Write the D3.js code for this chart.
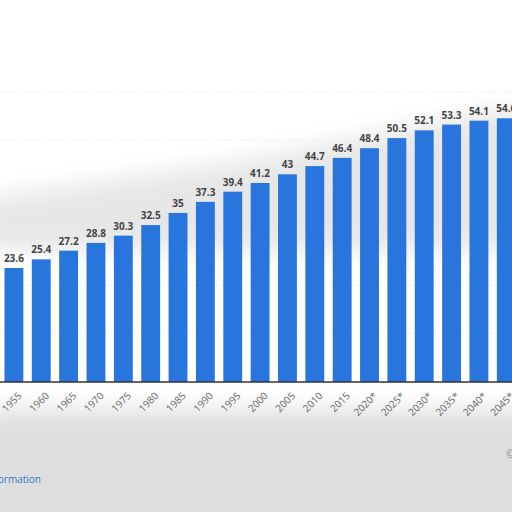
<!DOCTYPE html>
<html>
<head>
<meta charset="utf-8">
<script src="https://cdn.jsdelivr.net/npm/d3@7"></script>
<style>
  body { margin: 0; background: #fff; }
  svg { display: block; font-family: "Open Sans", "DejaVu Sans", sans-serif; }
</style>
</head>
<body>
<div id="vis"></div>
<script>
// Data
const YEARS = ["1955", "1960", "1965", "1970", "1975", "1980", "1985", "1990", "1995", "2000",
               "2005", "2010", "2015", "2020*", "2025*", "2030*", "2035*", "2040*", "2045*"];
const VALUES = [23.6, 25.4, 27.2, 28.8, 30.3, 32.5, 35, 37.3, 39.4, 41.2,
                43, 44.7, 46.4, 48.4, 50.5, 52.1, 53.3, 54.1, 54.6];
const GRID_TICKS = [10, 20, 30, 40, 50, 60];

const WIDTH = 512, HEIGHT = 512;
const BASE_Y = 382;

const svg = d3.select("#vis").append("svg")
    .attr("width", WIDTH)
    .attr("height", HEIGHT);

// soft grey smudges like the reference background
const defs = svg.append("defs");
defs.append("filter").attr("id", "blur")
    .attr("x", "-20%").attr("y", "-50%").attr("width", "140%").attr("height", "200%")
    .append("feGaussianBlur").attr("stdDeviation", 12);

svg.append("rect")
    .attr("x", -20).attr("y", 410).attr("width", 560).attr("height", 120)
    .attr("fill", "#dedede").attr("filter", "url(#blur)");
svg.append("path")
    .attr("d", "M-20,200 L250,160 L500,110 L540,110 L540,250 L-20,250 Z")
    .attr("fill", "#e6e6e6").attr("filter", "url(#blur)");

// scales
const X_SCALE = d3.scaleBand()
    .domain(YEARS)
    .range([-4, -4 + YEARS.length * 27.8])
    .padding(0.31);

const Y_SCALE = d3.scaleLinear()
    .domain([0, 60])
    .range([BASE_Y, BASE_Y - 60 * 4.83]);

// gridlines
svg.append("g").selectAll("line")
    .data(GRID_TICKS)
    .enter().append("line")
    .attr("x1", 0).attr("x2", WIDTH)
    .attr("y1", d => Y_SCALE(d)).attr("y2", d => Y_SCALE(d))
    .attr("stroke", "#e4e4e4")
    .attr("stroke-dasharray", "1,2");

// bars
svg.append("g").selectAll("rect")
    .data(VALUES)
    .enter().append("rect")
    .attr("x", (d, i) => X_SCALE(YEARS[i]))
    .attr("y", d => Y_SCALE(d))
    .attr("width", X_SCALE.bandwidth())
    .attr("height", d => BASE_Y - Y_SCALE(d))
    .attr("fill", "#2876dd");

// value labels
svg.append("g").selectAll("text")
    .data(VALUES)
    .enter().append("text")
    .attr("x", (d, i) => X_SCALE(YEARS[i]) + X_SCALE.bandwidth() / 2)
    .attr("y", d => Y_SCALE(d) - 6)
    .attr("text-anchor", "middle")
    .attr("font-size", 10)
    .attr("font-weight", "bold")
    .attr("fill", "#444")
    .text(d => d);

// x axis line
svg.append("line")
    .attr("x1", 0).attr("x2", WIDTH)
    .attr("y1", BASE_Y).attr("y2", BASE_Y)
    .attr("stroke", "#333").attr("stroke-width", 1.5);

// rotated year labels
svg.append("g").selectAll("text")
    .data(YEARS)
    .enter().append("text")
    .attr("transform", d => "translate(" + (X_SCALE(d) + X_SCALE.bandwidth() / 2 + 6) + "," + (BASE_Y + 12) + ") rotate(-45)")
    .attr("text-anchor", "end")
    .attr("dy", "0.35em")
    .attr("font-size", 10)
    .attr("fill", "#666")
    .text(d => d);

// footer bits
svg.append("text")
    .attr("x", 41).attr("y", 483)
    .attr("text-anchor", "end")
    .attr("font-size", 10)
    .attr("fill", "#2f7bc0")
    .text("Additional Information");

svg.append("text")
    .attr("x", 506).attr("y", 458)
    .attr("font-size", 10)
    .attr("fill", "#888")
    .text("©");
</script>
</body>
</html>
